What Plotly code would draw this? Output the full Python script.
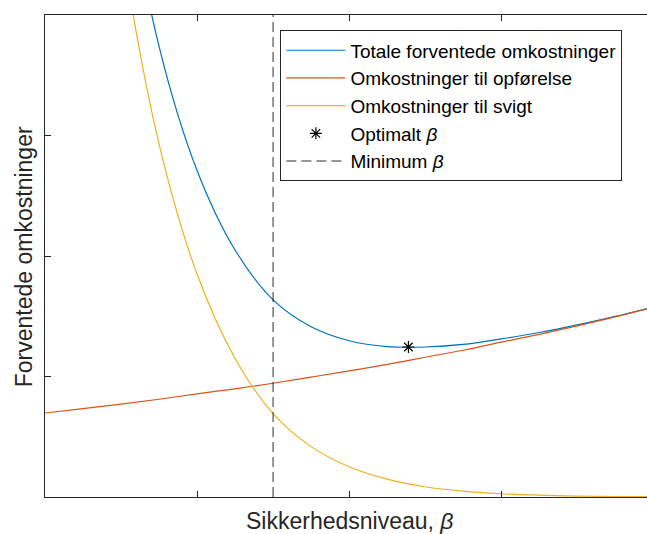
import plotly.graph_objects as go

# Reliability index grid (arbitrary units, no tick labels in original)
beta = [0.0, 0.25, 0.5, 0.75, 1.0, 1.25, 1.5, 1.75, 2.0, 2.25, 2.5, 2.75,
        3.0, 3.25, 3.5, 3.75, 4.0]
# Construction cost (orange)
cost_build = [0.697, 0.733, 0.771, 0.811, 0.856, 0.898, 0.944, 0.995, 1.046,
              1.100, 1.160, 1.218, 1.285, 1.350, 1.420, 1.495, 1.575]
# Failure cost (yellow)
cost_fail = [11.3, 7.2, 4.62, 2.93, 1.85, 1.15, 0.692, 0.418, 0.251, 0.148,
             0.085, 0.048, 0.027, 0.015, 0.008, 0.004, 0.002]
# Total expected cost (blue)
cost_total = [12.0, 7.93, 5.39, 3.74, 2.71, 2.05, 1.636, 1.413, 1.297, 1.248,
              1.245, 1.266, 1.312, 1.365, 1.428, 1.499, 1.577]
beta_opt = [2.39]
cost_opt = [1.245]
beta_min = [1.5, 1.5]
beta_min_y = [0, 4]

names = ["Totale forventede omkostninger", "Omkostninger til opførelse",
         "Omkostninger til svigt", "Optimalt <i>β</i>", "Minimum <i>β</i>"]

fig = go.Figure()
fig.add_trace(go.Scatter(x=beta, y=cost_total, mode="lines", name=names[0],
                         line=dict(color="#0072BD", width=1.2, shape="spline")))
fig.add_trace(go.Scatter(x=beta, y=cost_build, mode="lines", name=names[1],
                         line=dict(color="#D95319", width=1.2, shape="spline")))
fig.add_trace(go.Scatter(x=beta, y=cost_fail, mode="lines", name=names[2],
                         line=dict(color="#EDB120", width=1.2, shape="spline")))
fig.add_trace(go.Scatter(x=beta_opt, y=cost_opt, mode="markers", name=names[3],
                         marker=dict(symbol="asterisk-open", size=10, color="#000000",
                                     line=dict(color="#000000", width=1.2))))
fig.add_trace(go.Scatter(x=beta_min, y=beta_min_y, mode="lines", name=names[4],
                         line=dict(color="rgba(0,0,0,0.55)", width=1.5, dash="10px,5px")))

axcol = "#262626"
fig.update_layout(
    width=647, height=534,
    margin=dict(l=44.5, r=0, t=15, b=37),
    plot_bgcolor="white", paper_bgcolor="white",
    font=dict(family="Liberation Sans, Arial, sans-serif", color=axcol),
    showlegend=True,
    legend=dict(x=0.391, y=0.968, xanchor="left", yanchor="top",
                bgcolor="white", bordercolor=axcol, borderwidth=1,
                font=dict(size=19, color="#000000"),
                itemwidth=59, traceorder="normal"),
    xaxis=dict(range=[0, 3.959], showgrid=False, zeroline=False,
               showline=True, linecolor=axcol, linewidth=1, mirror="ticks",
               ticks="inside", ticklen=6, tickcolor=axcol, tickwidth=1,
               tickvals=[1, 2, 3], showticklabels=False),
    yaxis=dict(range=[0, 4], showgrid=False, zeroline=False,
               showline=True, linecolor=axcol, linewidth=1, mirror=False,
               ticks="inside", ticklen=6, tickcolor=axcol, tickwidth=1,
               tickvals=[1, 2, 3], showticklabels=False),
    annotations=[
        dict(text="Sikkerhedsniveau, <i>β</i>", xref="paper", yref="paper",
             x=(349 - 44.5) / 602.5, y=(497 - 521) / 482,
             xanchor="center", yanchor="middle",
             showarrow=False, font=dict(size=23, color=axcol)),
        dict(text="Forventede omkostninger", xref="paper", yref="paper",
             x=(23 - 44.5) / 602.5, y=(497 - 256.7) / 482,
             xanchor="center", yanchor="middle",
             textangle=-90, showarrow=False, font=dict(size=23, color=axcol)),
    ],
)

fig.write_html(
    "out.html",
    config={"displayModeBar": False},
    post_script="document.body.style.margin='0';document.body.style.overflow='hidden';",
)
